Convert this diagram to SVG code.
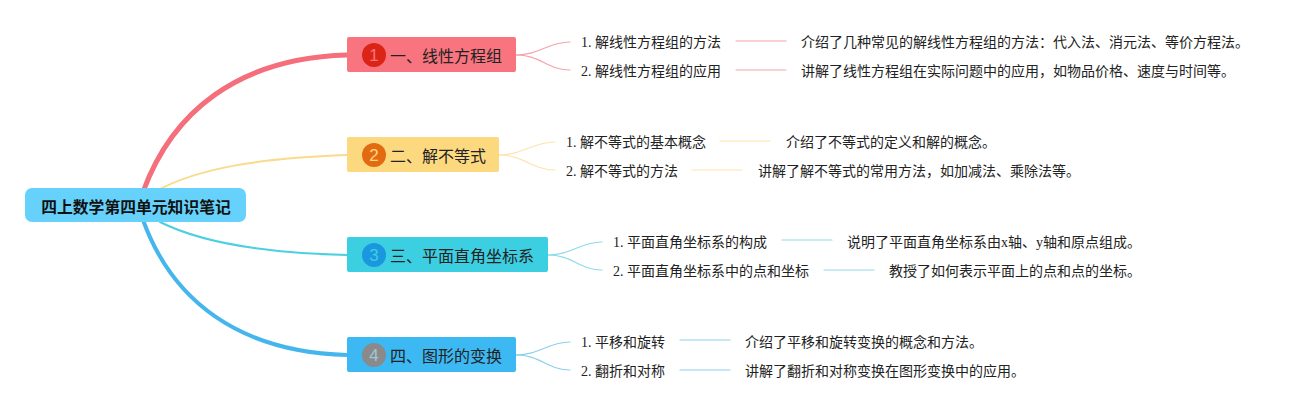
<svg xmlns="http://www.w3.org/2000/svg" width="1309" height="410" viewBox="0 0 1309 410">
<style>
.sub{font-family:"Liberation Serif","Noto Sans CJK SC",serif;font-size:14px;fill:#222;dominant-baseline:central}
.br{font-family:"Noto Sans CJK SC",sans-serif;font-size:16px;fill:#222;dominant-baseline:central}
.num{font-family:"Liberation Sans",sans-serif;font-size:17px;text-anchor:middle;dominant-baseline:central}
.c{fill:none;stroke-linecap:round}
</style>
<rect width="1309" height="410" fill="#fff"/>
<g id="connectors">
<path class="c" d="M143,192 C172,112 238,58 347,55" stroke="#f46e7b" stroke-width="5"/>
<path class="c" d="M158,190 C200,168 260,158 347,155" stroke="#fadb8b" stroke-width="2"/>
<path class="c" d="M160,222 C200,242 260,253 347,255" stroke="#4ccfe0" stroke-width="2"/>
<path class="c" d="M143,220 C172,300 238,352 347,355" stroke="#44b6ec" stroke-width="4"/>
<g stroke="#f4a3aa" stroke-width="1.2" class="c">
<path d="M516,55 C540,55 548,42 570,42"/><path d="M516,55 C540,55 548,70 570,70"/>
<path d="M736,41 H786"/><path d="M736,70 H786"/></g>
<g stroke="#fde4ad" stroke-width="1.2" class="c">
<path d="M499,155 C523,155 533,142 555,142"/><path d="M499,155 C523,155 533,170 555,170"/>
<path d="M720,141 H770"/><path d="M692,170 H742"/></g>
<g stroke="#8ddbe8" stroke-width="1.2" class="c">
<path d="M548,255 C572,255 580,242 602,242"/><path d="M548,255 C572,255 580,270 602,270"/>
<path d="M782,240 H832"/><path d="M824,270 H874"/></g>
<g stroke="#8ccfee" stroke-width="1.2" class="c">
<path d="M516,355 C540,355 548,342 570,342"/><path d="M516,355 C540,355 548,370 570,370"/>
<path d="M680,340 H730"/><path d="M680,370 H730"/></g>
</g>
<g id="root">
<rect x="25" y="188" width="221" height="34" rx="7" fill="#66d1fb"/>
<text x="136" y="206" font-family="Noto Sans CJK SC,sans-serif" font-size="15.8" font-weight="bold" text-anchor="middle" dominant-baseline="central" fill="#111">四上数学第四单元知识笔记</text>
</g>
<g id="b1">
<rect x="347" y="37" width="169" height="35" rx="2" fill="#f87580"/>
<circle cx="374" cy="55" r="12" fill="#dc2416"/>
<text class="num" x="374" y="55" fill="#f87580">1</text>
<text class="br" x="390" y="55">一、线性方程组</text>
</g>
<g id="b1s1"><text class="sub" x="581" y="42">1. 解线性方程组的方法</text></g>
<g id="b1s2"><text class="sub" x="581" y="71">2. 解线性方程组的应用</text></g>
<g id="b1d1"><text class="sub" x="801" y="42">介绍了几种常见的解线性方程组的方法：代入法、消元法、等价方程法。</text></g>
<g id="b1d2"><text class="sub" x="801" y="71">讲解了线性方程组在实际问题中的应用，如物品价格、速度与时间等。</text></g>
<g id="b2">
<rect x="347" y="137" width="152" height="35" rx="2" fill="#fcd97f"/>
<circle cx="374" cy="155" r="12" fill="#e26a10"/>
<text class="num" x="374" y="155" fill="#fcd97f">2</text>
<text class="br" x="390" y="155">二、解不等式</text>
</g>
<g id="b2s1"><text class="sub" x="566" y="142">1. 解不等式的基本概念</text></g>
<g id="b2s2"><text class="sub" x="566" y="171">2. 解不等式的方法</text></g>
<g id="b2d1"><text class="sub" x="786" y="142">介绍了不等式的定义和解的概念。</text></g>
<g id="b2d2"><text class="sub" x="758" y="171">讲解了解不等式的常用方法，如加减法、乘除法等。</text></g>
<g id="b3">
<rect x="347" y="237" width="201" height="35" rx="2" fill="#3ccfe2"/>
<circle cx="374" cy="255" r="12" fill="#1b97e0"/>
<text class="num" x="374" y="255" fill="#3ccfe2">3</text>
<text class="br" x="390" y="255">三、平面直角坐标系</text>
</g>
<g id="b3s1"><text class="sub" x="613" y="242">1. 平面直角坐标系的构成</text></g>
<g id="b3s2"><text class="sub" x="613" y="271">2. 平面直角坐标系中的点和坐标</text></g>
<g id="b3d1"><text class="sub" x="847" y="242">说明了平面直角坐标系由x轴、y轴和原点组成。</text></g>
<g id="b3d2"><text class="sub" x="889" y="271">教授了如何表示平面上的点和点的坐标。</text></g>
<g id="b4">
<rect x="347" y="337" width="169" height="35" rx="2" fill="#3cb8f3"/>
<circle cx="374" cy="355" r="12" fill="#8a8a8a"/>
<text class="num" x="374" y="355" fill="#9fc6da">4</text>
<text class="br" x="390" y="355">四、图形的变换</text>
</g>
<g id="b4s1"><text class="sub" x="581" y="342">1. 平移和旋转</text></g>
<g id="b4s2"><text class="sub" x="581" y="371">2. 翻折和对称</text></g>
<g id="b4d1"><text class="sub" x="745" y="342">介绍了平移和旋转变换的概念和方法。</text></g>
<g id="b4d2"><text class="sub" x="745" y="371">讲解了翻折和对称变换在图形变换中的应用。</text></g>
</svg>
